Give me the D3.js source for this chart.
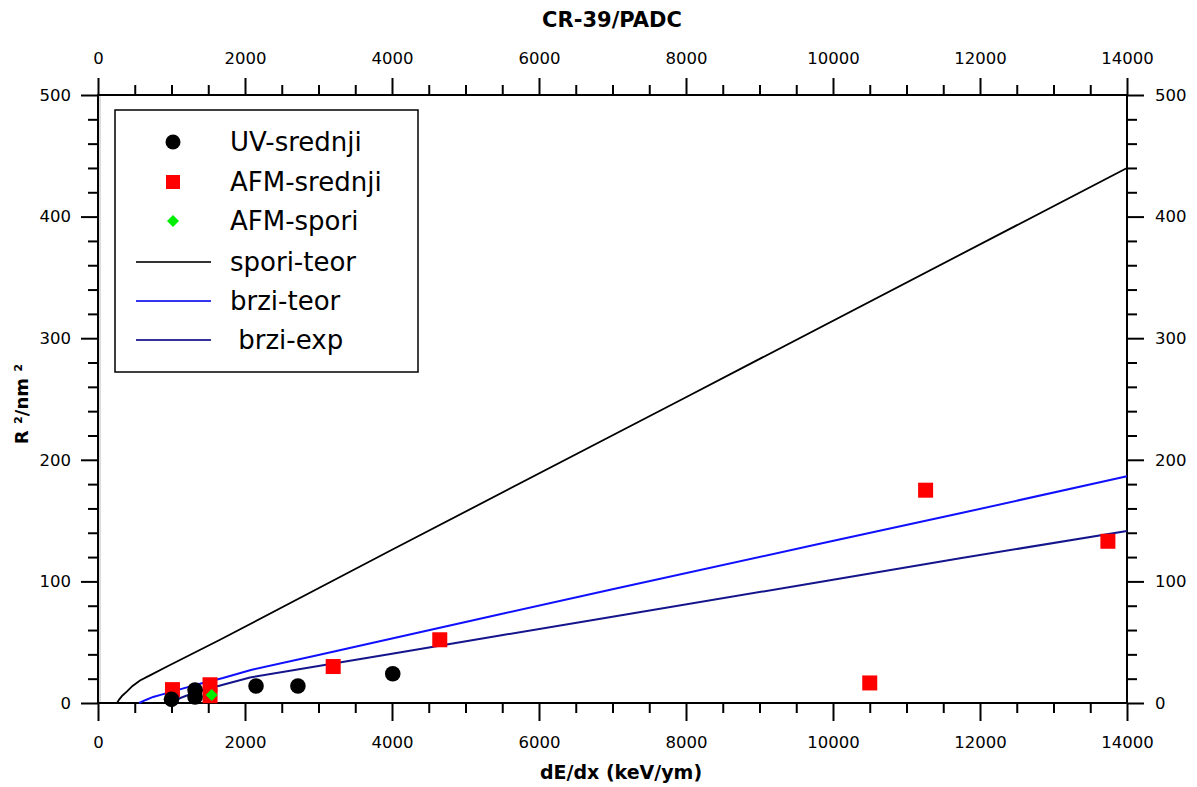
<!DOCTYPE html>
<html><head><meta charset="utf-8">
<script src="https://cdn.jsdelivr.net/npm/d3@7"></script>
<style>
body{margin:0;background:#fff;}
svg{display:block;font-family:"DejaVu Sans",Verdana,sans-serif;}
</style></head>
<body><svg id="c" width="1197" height="787"></svg>
<script>
// ---- data ----
const uvX = [1000, 1320, 1320, 2150, 2720, 4010];
const uvY = [3, 5, 10.7, 14, 14, 24];
const afmX = [1013, 1524, 1524, 3200, 4650, 10500, 11260, 13740];
const afmY = [11, 15, 6, 30, 52, 16.5, 175, 133];
const sporiX = [1547];
const sporiY = [6.6];
const sporiTeorX = [258, 290, 330, 395, 470, 571, 700, 940, 1660, 4000, 8000, 14000];
const sporiTeorY = [0, 3, 6, 9.5, 14, 18.5, 22.5, 30, 52, 126, 251.5, 440];
const brziTeorX = [560, 650, 750, 900, 1100, 1400, 1700, 2068, 3000, 4000, 5470, 7000, 9820, 11730, 14000];
const brziTeorY = [0, 2.5, 5, 7.5, 11, 16, 20.5, 27, 39.5, 53, 73, 93.5, 131, 156, 186.5];
const brziExpX = [950, 1050, 1200, 1400, 1700, 2068, 3000, 4000, 5470, 7000, 9820, 11730, 14000];
const brziExpY = [0, 2.5, 6, 10, 15, 21, 30.5, 40.5, 55.5, 71, 99.5, 119, 141.5];
const xTicks = [0, 2000, 4000, 6000, 8000, 10000, 12000, 14000];
const yTicks = [0, 100, 200, 300, 400, 500];
const legendLabels = ["UV-srednji", "AFM-srednji", "AFM-spori", "spori-teor", "brzi-teor", " brzi-exp"];

// ---- layout ----
const L = 98, R = 1127, T = 95, B = 703;
const svg = d3.select("#c");
const x = d3.scaleLinear().domain([0, 14000]).range([L, R]);
const y = d3.scaleLinear().domain([0, 500]).range([B, T]);

svg.append("rect").attr("x", 0).attr("y", 0).attr("width", 1197).attr("height", 787).attr("fill", "#fff");
svg.append("line").attr("x1", L + 2).attr("x2", L + 2).attr("y1", T).attr("y2", B).attr("stroke", "#d0d0d0").attr("stroke-width", 1.5);

const xMinor = d3.range(0, 14001, 500).filter(v => v % 2000 !== 0);
const yMinor = d3.range(0, 501, 20).filter(v => v % 100 !== 0);

function styleAxis(g, fs) {
  g.select(".domain").remove();
  g.selectAll(".tick line").attr("stroke", "#000").attr("stroke-width", 2);
  g.selectAll(".tick text").attr("font-size", fs).attr("fill", "#000")
    .attr("font-family", "DejaVu Sans, Verdana, sans-serif");
}
const FS = 16.5;
// bottom
svg.append("g").attr("transform", `translate(0,${B})`)
  .call(d3.axisBottom(x).tickValues(xTicks).tickSize(18).tickPadding(15).tickFormat(d3.format("d")))
  .call(g => styleAxis(g, FS));
svg.append("g").attr("transform", `translate(0,${B})`)
  .call(d3.axisBottom(x).tickValues(xMinor).tickSize(10).tickFormat(""))
  .call(g => styleAxis(g, FS));
// top
svg.append("g").attr("transform", `translate(0,${T})`)
  .call(d3.axisTop(x).tickValues(xTicks).tickSize(17).tickPadding(14).tickFormat(d3.format("d")))
  .call(g => styleAxis(g, FS));
svg.append("g").attr("transform", `translate(0,${T})`)
  .call(d3.axisTop(x).tickValues(xMinor).tickSize(10).tickFormat(""))
  .call(g => styleAxis(g, FS));
// left
svg.append("g").attr("transform", `translate(${L},0)`)
  .call(d3.axisLeft(y).tickValues(yTicks).tickSize(17).tickPadding(10).tickFormat(d3.format("d")))
  .call(g => styleAxis(g, FS));
svg.append("g").attr("transform", `translate(${L},0)`)
  .call(d3.axisLeft(y).tickValues(yMinor).tickSize(10).tickFormat(""))
  .call(g => styleAxis(g, FS));
// right
svg.append("g").attr("transform", `translate(${R},0)`)
  .call(d3.axisRight(y).tickValues(yTicks).tickSize(17).tickPadding(11).tickFormat(d3.format("d")))
  .call(g => styleAxis(g, FS));
svg.append("g").attr("transform", `translate(${R},0)`)
  .call(d3.axisRight(y).tickValues(yMinor).tickSize(10).tickFormat(""))
  .call(g => styleAxis(g, FS));

// frame
svg.append("rect").attr("x", L).attr("y", T).attr("width", R - L).attr("height", B - T)
  .attr("fill", "none").attr("stroke", "#000").attr("stroke-width", 2);

// lines
const line = d3.line().x(d => x(d[0])).y(d => y(d[1]));
function drawLine(xs, ys, color, w) {
  svg.append("path").datum(xs.map((v, i) => [v, ys[i]]))
    .attr("d", line).attr("fill", "none").attr("stroke", color).attr("stroke-width", w);
}
drawLine(sporiTeorX, sporiTeorY, "#000", 1.8);
drawLine(brziTeorX, brziTeorY, "#1010ff", 2);
drawLine(brziExpX, brziExpY, "#14148c", 2);

// markers
svg.append("g").selectAll("rect").data(afmX.map((v, i) => [v, afmY[i]])).join("rect")
  .attr("x", d => x(d[0]) - 7.5).attr("y", d => y(d[1]) - 7.5).attr("width", 15).attr("height", 15)
  .attr("fill", "#ff0000");
svg.append("g").selectAll("circle").data(uvX.map((v, i) => [v, uvY[i]])).join("circle")
  .attr("cx", d => x(d[0])).attr("cy", d => y(d[1])).attr("r", 7.8).attr("fill", "#000");
svg.append("g").selectAll("path").data(sporiX.map((v, i) => [v, sporiY[i]])).join("path")
  .attr("transform", d => `translate(${x(d[0])},${y(d[1])})`)
  .attr("d", "M0,-6L6,0L0,6L-6,0Z").attr("fill", "#00ee00");

// legend
const lg = svg.append("g");
lg.append("rect").attr("x", 115).attr("y", 110).attr("width", 303).attr("height", 262)
  .attr("fill", "#fff").attr("stroke", "#000").attr("stroke-width", 1.5);
const rowsY = [142, 182, 221, 262, 301, 340];
lg.append("circle").attr("cx", 173).attr("cy", rowsY[0]).attr("r", 7.5).attr("fill", "#000");
lg.append("rect").attr("x", 166).attr("y", rowsY[1] - 7).attr("width", 14).attr("height", 14).attr("fill", "#ff0000");
lg.append("path").attr("transform", `translate(173,${rowsY[2]})`).attr("d", "M0,-6L6,0L0,6L-6,0Z").attr("fill", "#00ee00");
const lineCols = ["#333", "#3535ee", "#333399"];
lineCols.forEach((c, i) => {
  lg.append("line").attr("x1", 136).attr("x2", 211).attr("y1", rowsY[3 + i]).attr("y2", rowsY[3 + i])
    .attr("stroke", c).attr("stroke-width", 2);
});
legendLabels.forEach((t, i) => {
  lg.append("text").attr("x", 230).attr("y", rowsY[i]).attr("dy", "0.36em")
    .attr("font-size", 26).attr("fill", "#000").style("white-space", "pre").text(t);
});

// titles
svg.append("text").attr("x", 612).attr("y", 27).attr("text-anchor", "middle")
  .attr("font-size", 21).attr("font-weight", "bold").text("CR-39/PADC");
svg.append("text").attr("x", 621).attr("y", 779).attr("text-anchor", "middle")
  .attr("font-size", 19).attr("font-weight", "bold").text("dE/dx (keV/ym)");
svg.append("text").attr("transform", "translate(28,404) rotate(-90)").attr("text-anchor", "middle")
  .attr("font-size", 18).attr("font-weight", "bold").style("white-space", "pre").text("R ²/nm ²");
</script></body></html>
